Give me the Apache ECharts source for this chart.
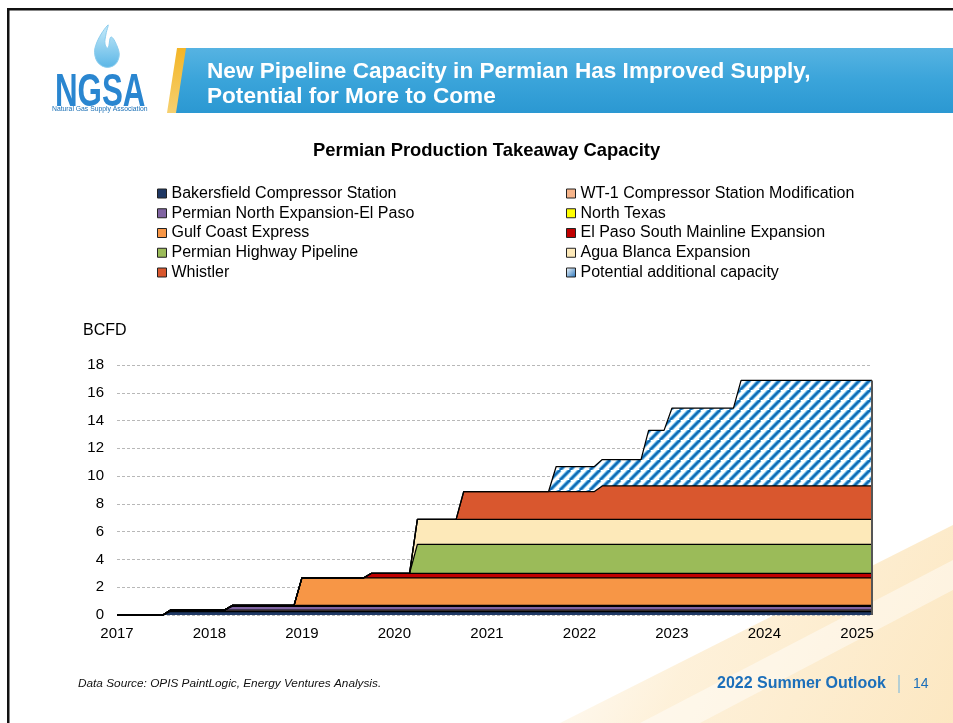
<!DOCTYPE html>
<html><head><meta charset="utf-8">
<script src="https://cdn.jsdelivr.net/npm/echarts@6/dist/echarts.min.js"></script>
<style>html,body{margin:0;padding:0;background:#fff}#c{width:953px;height:723px}</style>
</head><body><div id="c"></div>
<script>
// ---- data (BCFD), values per series at each breakpoint date ----
const dates = ['2017-01-01','2017-07-01','2017-08-01','2018-03-01','2018-04-01','2018-12-01','2019-01-01',
  '2019-09-01','2019-10-01','2020-03-01','2020-04-01','2020-09-01','2020-10-01','2021-09-01','2021-10-01',
  '2022-03-01','2022-04-01','2022-09-01','2022-10-01','2022-12-01','2023-01-01','2023-09-01','2023-10-01','2025-03-01'];
const bakersfield   = [0,0,0.25,0.25,0.25,0.25,0.25,0.25,0.25,0.25,0.25,0.25,0.25,0.25,0.25,0.25,0.25,0.25,0.25,0.25,0.25,0.25,0.25,0.25];
const wt1           = [0,0,0.1,0.1,0.1,0.1,0.1,0.1,0.1,0.1,0.1,0.1,0.1,0.1,0.1,0.1,0.1,0.1,0.1,0.1,0.1,0.1,0.1,0.1];
const permianNorth  = [0,0,0,0,0.27,0.27,0.27,0.27,0.27,0.27,0.27,0.27,0.27,0.27,0.27,0.27,0.27,0.27,0.27,0.27,0.27,0.27,0.27,0.27];
const northTexas    = [0,0,0,0,0.07,0.07,0.07,0.07,0.07,0.07,0.07,0.07,0.07,0.07,0.07,0.07,0.07,0.07,0.07,0.07,0.07,0.07,0.07,0.07];
const gulfCoast     = [0,0,0,0,0,0,1.98,1.98,1.98,1.98,1.98,1.98,1.98,1.98,1.98,1.98,1.98,1.98,1.98,1.98,1.98,1.98,1.98,1.98];
const elPasoSouth   = [0,0,0,0,0,0,0,0,0.32,0.32,0.32,0.32,0.32,0.32,0.32,0.32,0.32,0.32,0.32,0.32,0.32,0.32,0.32,0.32];
const permianHwy    = [0,0,0,0,0,0,0,0,0,0,2.1,2.1,2.1,2.1,2.1,2.1,2.1,2.1,2.1,2.1,2.1,2.1,2.1,2.1];
const aguaBlanca    = [0,0,0,0,0,0,0,0,0,0,1.8,1.8,1.8,1.8,1.8,1.8,1.8,1.8,1.8,1.8,1.8,1.8,1.8,1.8];
const whistler      = [0,0,0,0,0,0,0,0,0,0,0,0,2.0,2.0,2.0,2.0,2.4,2.4,2.4,2.4,2.4,2.4,2.4,2.4];
const potential     = [0,0,0,0,0,0,0,0,0,0,0,0,0,0,1.8,1.8,1.9,1.9,4.0,4.0,5.6,5.6,7.6,7.6];

const names = ['Bakersfield Compressor Station','WT-1 Compressor Station Modification','Permian North Expansion-El Paso',
  'North Texas','Gulf Coast Express','El Paso South Mainline Expansion','Permian Highway Pipeline','Agua Blanca Expansion',
  'Whistler','Potential additional capacity'];
const values = [bakersfield, wt1, permianNorth, northTexas, gulfCoast, elPasoSouth, permianHwy, aguaBlanca, whistler, potential];
const colors = ['#1f3864','#f6b48a','#8064a2','#ffff00','#f79646','#c00000','#9bbb59','#fde9b9','#d9572e', null];
const yTicks = {min:0, max:18, interval:2};
const xTickYears = ['2017','2018','2019','2020','2021','2022','2023','2024','2025'];

function makeHatch(){
  const P = 10;
  const c = document.createElement('canvas'); c.width = P; c.height = P;
  const ctx = c.getContext('2d');
  ctx.fillStyle = '#ffffff'; ctx.fillRect(0,0,P,P);
  [[4.4,'#8cc8ee'],[3.0,'#3d9bd8'],[1.8,'#0f66b0']].forEach(([w,col])=>{
    ctx.strokeStyle = col; ctx.lineWidth = w;
    for (let k=-1;k<=1;k++){ ctx.beginPath(); ctx.moveTo(k*P, P); ctx.lineTo(k*P+P, 0); ctx.stroke(); }
  });
  return c;
}
const hatch = {image: makeHatch(), repeat: 'repeat'};
const FONT = "'Liberation Sans', Arial, sans-serif";

const series = names.map((n,i)=>({
  name: n, type:'line', stack:'total', symbol:'none', silent:true, emphasis:{disabled:true},
  lineStyle:{color:'#000', width:1.25},
  itemStyle:{color: colors[i] || '#3a8fd0'},
  areaStyle:{color: colors[i] || hatch, opacity:1},
  data: dates.map((d,j)=>[d, values[i][j]])
}));
const lastIdx = dates.length-1;
const total = values.reduce((s,a)=>s+a[lastIdx],0);
series[series.length-1].markLine = {
  symbol:'none', silent:true, label:{show:false}, animation:false,
  lineStyle:{color:'#555', width:2, type:'solid'},
  data:[[{coord:[dates[lastIdx],0]},{coord:[dates[lastIdx],total]}]]
};

const legendBase = {
  orient:'vertical', selectedMode:false, icon:'rect', itemWidth:9, itemHeight:9, itemGap:2.75, padding:0,
  itemStyle:{borderColor:'#222', borderWidth:1},
  textStyle:{fontFamily:FONT, fontSize:16, color:'#000', lineHeight:17}, top:185
};
const potGrad = new echarts.graphic.LinearGradient(0,0,1,1,[{offset:0,color:'#ffffff'},{offset:1,color:'#1f6fb8'}]);
const col1 = [names[0],names[2],names[4],names[6],names[8]];
const col2 = [names[1],names[3],names[5],names[7],{name:names[9], itemStyle:{color:potGrad}}];

const chart = echarts.init(document.getElementById('c'), null, {renderer:'canvas'});
chart.setOption({
  animation:false,
  backgroundColor:'#ffffff',
  title:{text:'Permian Production Takeaway Capacity', left:313, top:142, padding:0,
    textStyle:{fontFamily:FONT, fontSize:18.4, fontWeight:'bold', color:'#000'}},
  legend:[Object.assign({}, legendBase, {left:157, data:col1}), Object.assign({}, legendBase, {left:566, data:col2})],
  grid:{left:117, right:81, top:365, bottom:108, outerBoundsMode:'none'},
  xAxis:{type:'time', min:dates[0], max:dates[lastIdx],
    minInterval:365*24*3600*1000, maxInterval:366*24*3600*1000,
    axisLine:{show:false}, axisTick:{show:false}, splitLine:{show:false},
    axisLabel:{fontFamily:FONT, fontSize:15, color:'#000', margin:11, hideOverlap:false,
      formatter:(v)=>{const d=new Date(v); const y=String(d.getFullYear());
        return (d.getMonth()===0 && d.getDate()===1 && xTickYears.indexOf(y)>=0) ? y : '';}}},
  yAxis:{type:'value', min:yTicks.min, max:yTicks.max, interval:yTicks.interval,
    axisLine:{show:false}, axisTick:{show:false},
    splitLine:{lineStyle:{color:'#b8b8b8', type:[3,2], width:1}},
    axisLabel:{fontFamily:FONT, fontSize:15, color:'#000', margin:13}},
  series: series,
  graphic:[
    {type:'polygon', z:-10, silent:true, shape:{points:[[560,723],[953,525],[953,723]]},
      style:{fill:new echarts.graphic.LinearGradient(0,0,1,1,[{offset:0,color:'rgba(253,236,205,0)'},{offset:0.4,color:'rgba(253,236,205,0.75)'},{offset:1,color:'rgba(252,230,190,0.95)'}])}},
    {type:'polygon', z:-9, silent:true, shape:{points:[[640,723],[953,560],[953,590],[700,723]]},
      style:{fill:'rgba(255,255,255,0.45)'}},
    {type:'rect', silent:true, shape:{x:7,y:8,width:946,height:2.5}, style:{fill:'#111'}},
    {type:'rect', silent:true, shape:{x:7,y:8,width:2.5,height:715}, style:{fill:'#111'}},
    {type:'polygon', silent:true, shape:{points:[[184,48],[953,48],[953,113],[174,113]]},
      style:{fill:new echarts.graphic.LinearGradient(0,0,0,1,[{offset:0,color:'#56b3e2'},{offset:0.5,color:'#3aa4da'},{offset:1,color:'#2b98d2'}])}},
    {type:'polygon', silent:true, shape:{points:[[177,48],[186,48],[176,113],[167,113]]},
      style:{fill:new echarts.graphic.LinearGradient(0,0,0,1,[{offset:0,color:'#f3b526'},{offset:1,color:'#f6d070'}])}},
    {type:'text', silent:true, style:{x:207,y:72,text:'New Pipeline Capacity in Permian Has Improved Supply,',
      font:"bold 22.6px 'Liberation Sans', Arial, sans-serif", fill:'#fff', verticalAlign:'middle'}},
    {type:'text', silent:true, style:{x:207,y:97,text:'Potential for More to Come',
      font:"bold 22.6px 'Liberation Sans', Arial, sans-serif", fill:'#fff', verticalAlign:'middle'}},
    // logo flame
    {type:'polygon', silent:true, shape:{smooth:0.4, points:[[108,25],[97,42],[95,56],[102,66],[113,66],[119,57],[117,46],[111,37],[108,48],[105,44],[106,34]]},
      style:{fill:new echarts.graphic.LinearGradient(0,0,0,1,[{offset:0,color:'#c9ecfa'},{offset:1,color:'#5bb6e6'}]), stroke:'#8ccdee', lineWidth:1}},
    {type:'text', silent:true, x:55, y:70, scaleX:0.87, scaleY:1.28, style:{x:0,y:0,text:'NGSA',
      font:"bold 36px 'Liberation Sans', Arial, sans-serif", fill:'#2a86d0'}},
    {type:'text', silent:true, style:{x:52,y:106,text:'Natural Gas Supply Association',
      font:"6.8px 'Liberation Sans', Arial, sans-serif", fill:'#1a6fb5'}},
    // axis unit
    {type:'text', silent:true, style:{x:83,y:331,text:'BCFD', font:"16px 'Liberation Sans', Arial, sans-serif", fill:'#000', verticalAlign:'middle'}},
    // footer
    {type:'text', silent:true, style:{x:78,y:684,text:'Data Source: OPIS PaintLogic, Energy Ventures Analysis.',
      font:"italic 11.8px 'Liberation Sans', Arial, sans-serif", fill:'#111', verticalAlign:'middle'}},
    {type:'text', silent:true, style:{x:717,y:684,text:'2022 Summer Outlook',
      font:"bold 16px 'Liberation Sans', Arial, sans-serif", fill:'#1c6fba', verticalAlign:'middle'}},
    {type:'rect', silent:true, shape:{x:898.5,y:675,width:1,height:18}, style:{fill:'#6fb3e0'}},
    {type:'text', silent:true, style:{x:913,y:684,text:'14',
      font:"14px 'Liberation Sans', Arial, sans-serif", fill:'#1c6fba', verticalAlign:'middle'}}
  ]
});
</script></body></html>
